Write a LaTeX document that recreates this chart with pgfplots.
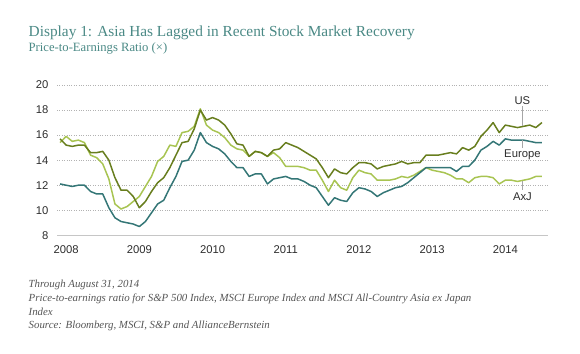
\documentclass[border=0pt]{standalone}
\usepackage{pgfplots}
\pgfplotsset{compat=1.18}
\usepackage{pgfplotstable}
\usepackage{fontspec}
\setmainfont{Liberation Serif}
\newfontfamily\sansf{Liberation Sans}
\definecolor{titlec}{RGB}{74,137,133}
\definecolor{usc}{RGB}{104,126,30}
\definecolor{euc}{RGB}{52,118,118}
\definecolor{axjc}{RGB}{168,196,82}
\definecolor{txtc}{RGB}{45,45,45}
\definecolor{footc}{RGB}{85,85,85}

\pgfplotstableread{
m v
0 15.7
1 15.2
2 15.1
3 15.2
4 15.2
5 14.6
6 14.6
7 14.7
8 14.0
9 12.6
10 11.6
11 11.6
12 11.1
13 10.2
14 10.7
15 11.5
16 12.2
17 12.6
18 13.4
19 14.4
20 15.4
21 15.5
22 16.5
23 18.0
24 17.2
25 17.4
26 17.2
27 16.8
28 16.1
29 15.3
30 15.2
31 14.3
32 14.7
33 14.6
34 14.3
35 14.8
36 14.9
37 15.4
38 15.2
39 15.0
40 14.7
41 14.4
42 14.1
43 13.4
44 12.6
45 13.3
46 13.0
47 12.9
48 13.4
49 13.8
50 13.8
51 13.7
52 13.3
53 13.5
54 13.6
55 13.7
56 13.9
57 13.7
58 13.8
59 13.8
60 14.4
61 14.4
62 14.4
63 14.5
64 14.6
65 14.5
66 15.0
67 14.8
68 15.1
69 15.9
70 16.4
71 17.0
72 16.2
73 16.8
74 16.7
75 16.6
76 16.7
77 16.8
78 16.6
79 17.0
}\us

\pgfplotstableread{
m v
0 12.1
1 12.0
2 11.9
3 12.0
4 12.0
5 11.5
6 11.3
7 11.3
8 10.2
9 9.4
10 9.1
11 9.0
12 8.9
13 8.7
14 9.1
15 9.8
16 10.5
17 10.8
18 11.8
19 12.7
20 13.9
21 14.0
22 14.8
23 16.2
24 15.4
25 15.1
26 14.9
27 14.5
28 13.9
29 13.4
30 13.4
31 12.7
32 12.9
33 12.9
34 12.1
35 12.5
36 12.6
37 12.7
38 12.5
39 12.5
40 12.3
41 12.0
42 11.8
43 11.1
44 10.4
45 11.0
46 10.8
47 10.7
48 11.4
49 11.8
50 11.7
51 11.5
52 11.1
53 11.4
54 11.6
55 11.8
56 11.9
57 12.2
58 12.6
59 13.0
60 13.4
61 13.4
62 13.4
63 13.4
64 13.4
65 13.1
66 13.5
67 13.5
68 14.0
69 14.8
70 15.1
71 15.5
72 15.2
73 15.7
74 15.6
75 15.6
76 15.6
77 15.5
78 15.4
79 15.4
}\eu

\pgfplotstableread{
m v
0 15.4
1 15.9
2 15.5
3 15.6
4 15.4
5 14.4
6 14.2
7 13.7
8 12.5
9 10.5
10 10.1
11 10.3
12 10.7
13 11.1
14 11.9
15 12.7
16 13.9
17 14.3
18 15.2
19 15.1
20 16.2
21 16.3
22 16.7
23 18.1
24 16.8
25 16.4
26 16.2
27 15.8
28 15.2
29 14.9
30 14.8
31 14.3
32 14.7
33 14.6
34 14.3
35 14.6
36 14.2
37 13.5
38 13.5
39 13.5
40 13.4
41 13.2
42 13.2
43 12.4
44 11.5
45 12.4
46 11.8
47 11.6
48 12.6
49 13.2
50 13.0
51 12.9
52 12.4
53 12.4
54 12.4
55 12.5
56 12.7
57 12.6
58 12.8
59 13.1
60 13.4
61 13.2
62 13.1
63 13.0
64 12.8
65 12.5
66 12.5
67 12.2
68 12.6
69 12.7
70 12.7
71 12.6
72 12.1
73 12.4
74 12.4
75 12.3
76 12.4
77 12.5
78 12.7
79 12.7
}\axj

\begin{document}
\begin{tikzpicture}[x=1bp,y=1bp]
\useasboundingbox (0,0) rectangle (580,353);
\node[anchor=base west, inner sep=0, text=titlec, font=\fontsize{15.4}{18}\selectfont] at (28.5,316.3) {Display 1: Asia Has Lagged in Recent Stock Market Recovery};
\node[anchor=base west, inner sep=0, text=titlec, font=\fontsize{12.7}{14}\selectfont] at (28.5,301.3) {Price-to-Earnings Ratio (×)};
\begin{axis}[
  at={(57bp,117.7bp)}, anchor=south west,
  scale only axis, width=491bp, height=150.3bp,
  xmin=-0.5, xmax=80, ymin=8, ymax=20,
  axis line style={draw=none},
  major tick length=0pt,
  xtick={1,13,25,37,49,61,73},
  xticklabels={2008,2009,2010,2011,2012,2013,2014},
  ytick={10,12,14,16,18,20},
  extra y ticks={8},
  extra y tick style={ymajorgrids=true, major grid style={solid, draw=gray!45, line width=0.8pt}},
  ymajorgrids=true,
  major grid style={dotted, draw=gray!60, line width=0.7pt},
  ticklabel style={font=\sansf\fontsize{11.3}{13}\selectfont, text=txtc},
  /pgf/number format/assume math mode=true,
  yticklabel style={xshift=-5bp},
  xticklabel style={yshift=-7bp},
  clip=false,
]
\addplot[axjc, line width=1.5pt, line join=round] table[x=m,y=v] {\axj};
\addplot[euc, line width=1.5pt, line join=round] table[x=m,y=v] {\eu};
\addplot[usc, line width=1.5pt, line join=round] table[x=m,y=v] {\us};
\draw[gray!70, line width=0.6pt] (axis cs:75.8,18.3) -- (axis cs:75.8,16.7);
\draw[gray!70, line width=0.6pt] (axis cs:75.8,15.6) -- (axis cs:75.8,14.95);
\draw[gray!70, line width=0.6pt] (axis cs:75.8,12.3) -- (axis cs:75.8,11.6);
\node[font=\sansf\fontsize{11.3}{13}\selectfont, text=txtc] at (axis cs:75.8,18.77) {US};
\node[font=\sansf\fontsize{11.3}{13}\selectfont, text=txtc] at (axis cs:75.8,14.42) {Europe};
\node[font=\sansf\fontsize{11.3}{13}\selectfont, text=txtc] at (axis cs:75.8,11.09) {AxJ};
\end{axis}
\begin{scope}[every node/.style={anchor=base west, inner sep=0, text=footc, font=\itshape\fontsize{10.9}{12}\selectfont}]
\node at (28.5,65.7) {Through August 31, 2014};
\node at (28.5,51.2) {Price-to-earnings ratio for S\&P 500 Index, MSCI Europe Index and MSCI All-Country Asia ex Japan};
\node at (28.5,38) {Index};
\node at (28.5,24.7) {Source: Bloomberg, MSCI, S\&P and AllianceBernstein};
\end{scope}
\end{tikzpicture}
\end{document}
